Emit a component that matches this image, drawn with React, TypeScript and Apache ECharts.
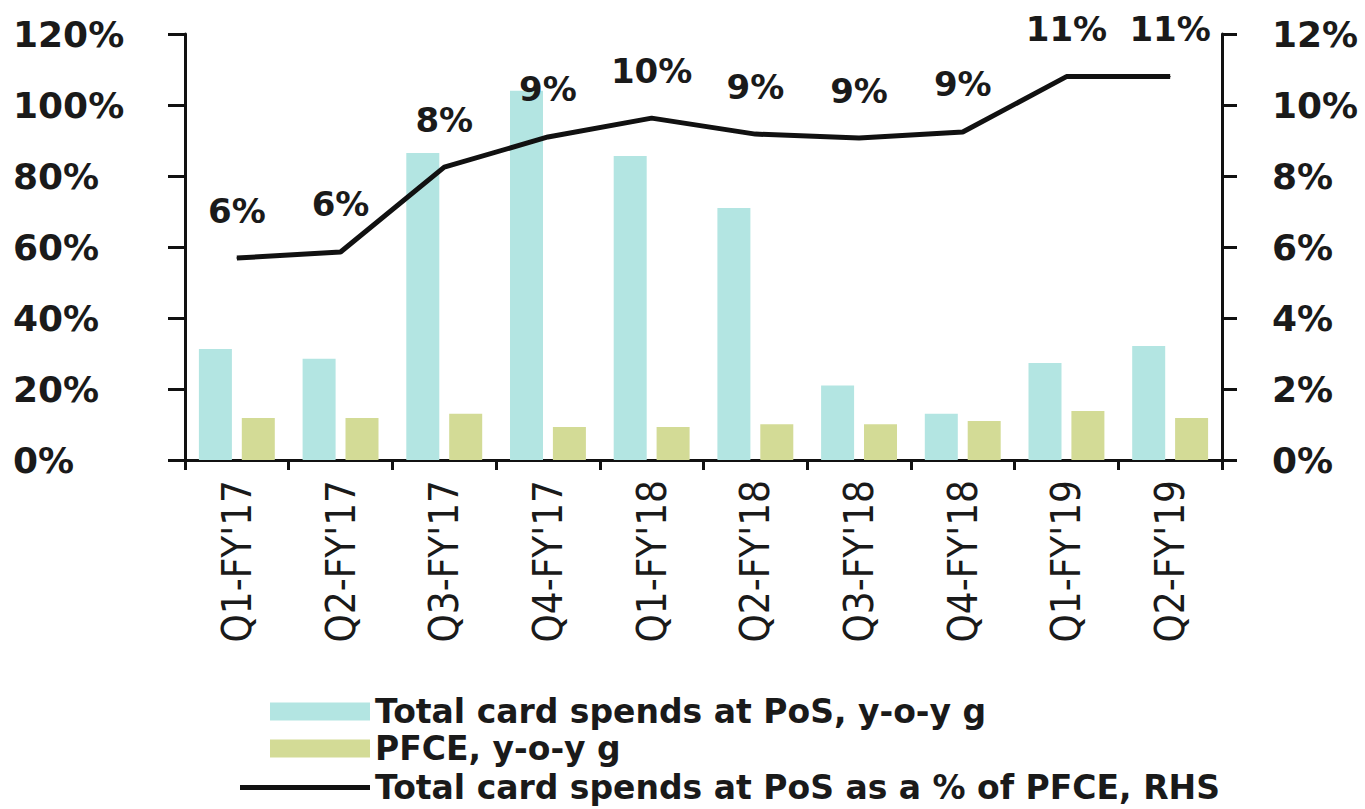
import React, { useEffect, useRef } from "react";
import * as echarts from "echarts";

const categories = ["Q1-FY'17", "Q2-FY'17", "Q3-FY'17", "Q4-FY'17", "Q1-FY'18", "Q2-FY'18", "Q3-FY'18", "Q4-FY'18", "Q1-FY'19", "Q2-FY'19"];
const cardSpendsYoY = [31.3, 28.5, 86.5, 104, 85.6, 71, 21, 13, 27.3, 32.1];
const pfceYoY = [11.8, 11.8, 13, 9.3, 9.3, 10.1, 10.1, 11, 13.8, 11.8];
const cardShareOfPfce = [5.69, 5.86, 8.25, 9.1, 9.63, 9.18, 9.07, 9.24, 10.8, 10.8];
const shareLabels = ["6%", "6%", "8%", "9%", "10%", "9%", "9%", "9%", "11%", "11%"];
const seriesNames = ["Total card spends at PoS, y-o-y g", "PFCE, y-o-y g", "Total card spends at PoS as a % of PFCE, RHS"];

export default function App() {
  const ref = useRef<HTMLDivElement>(null);
  useEffect(() => {
    const chart = echarts.init(ref.current!, null, { renderer: "svg" });
    const axisFont = { fontFamily: "'DejaVu Sans', sans-serif", fontWeight: "bold" as const, fontSize: 36, color: "#1a1a1a" };
    const legendText = { fontFamily: "'DejaVu Sans', sans-serif", fontWeight: "bold" as const, fontSize: 33, color: "#1a1a1a" };
    chart.setOption({
      animation: false,
      backgroundColor: "#ffffff",
      grid: { left: 185, right: 143, top: 34, bottom: 349, containLabel: false },
      legend: [
        {
          data: [seriesNames[0], seriesNames[1]],
          orient: "vertical",
          left: 270,
          top: 695,
          padding: 0,
          itemWidth: 100,
          itemHeight: 18,
          itemGap: 4,
          icon: "rect",
          textStyle: legendText,
        },
        {
          data: [seriesNames[2]],
          orient: "vertical",
          left: 240,
          top: 771,
          padding: 0,
          itemWidth: 130,
          itemHeight: 5,
          icon: "rect",
          itemStyle: { color: "#111111" },
          textStyle: legendText,
        },
      ],
      xAxis: {
        type: "category",
        data: categories,
        axisLine: { lineStyle: { color: "#111111", width: 3 } },
        axisTick: { show: true, length: 10, lineStyle: { color: "#111111", width: 3 } },
        axisLabel: {
          rotate: 90,
          interval: 0,
          margin: 20,
          fontFamily: "'Liberation Sans Narrow', 'DejaVu Sans Condensed', sans-serif",
          fontSize: 40,
          color: "#1a1a1a",
        },
      },
      yAxis: [
        {
          type: "value",
          min: 0,
          max: 120,
          interval: 20,
          splitLine: { show: false },
          axisLine: { show: true, lineStyle: { color: "#111111", width: 3 } },
          axisTick: { show: true, length: 17, lineStyle: { color: "#111111", width: 3 } },
          axisLabel: { ...axisFont, formatter: "{value}%", align: "left", margin: 172 },
        },
        {
          type: "value",
          min: 0,
          max: 12,
          interval: 2,
          splitLine: { show: false },
          axisLine: { show: true, lineStyle: { color: "#111111", width: 3 } },
          axisTick: { show: true, length: 15, lineStyle: { color: "#111111", width: 3 } },
          axisLabel: { ...axisFont, formatter: "{value}%", align: "left", margin: 50 },
        },
      ],
      series: [
        {
          name: seriesNames[0],
          type: "bar",
          data: cardSpendsYoY,
          yAxisIndex: 0,
          barWidth: 33,
          barGap: "30%",
          itemStyle: { color: "#b3e5e2" },
        },
        {
          name: seriesNames[1],
          type: "bar",
          data: pfceYoY,
          yAxisIndex: 0,
          barWidth: 33,
          barGap: "30%",
          itemStyle: { color: "#d3db96" },
        },
        {
          name: seriesNames[2],
          type: "line",
          data: cardShareOfPfce,
          yAxisIndex: 1,
          symbol: "circle",
          symbolSize: 1,
          itemStyle: { color: "#111111" },
          lineStyle: { color: "#111111", width: 5 },
          label: {
            show: true,
            position: "top",
            distance: 30,
            formatter: (p: any) => shareLabels[p.dataIndex],
            fontFamily: "'DejaVu Sans', sans-serif",
            fontWeight: "bold",
            fontSize: 34,
            color: "#1a1a1a",
          },
        },
      ],
    });
    return () => chart.dispose();
  }, []);
  return <div ref={ref} style={{ width: 1365, height: 809, position: "absolute", left: 0, top: 0 }} />;
}
